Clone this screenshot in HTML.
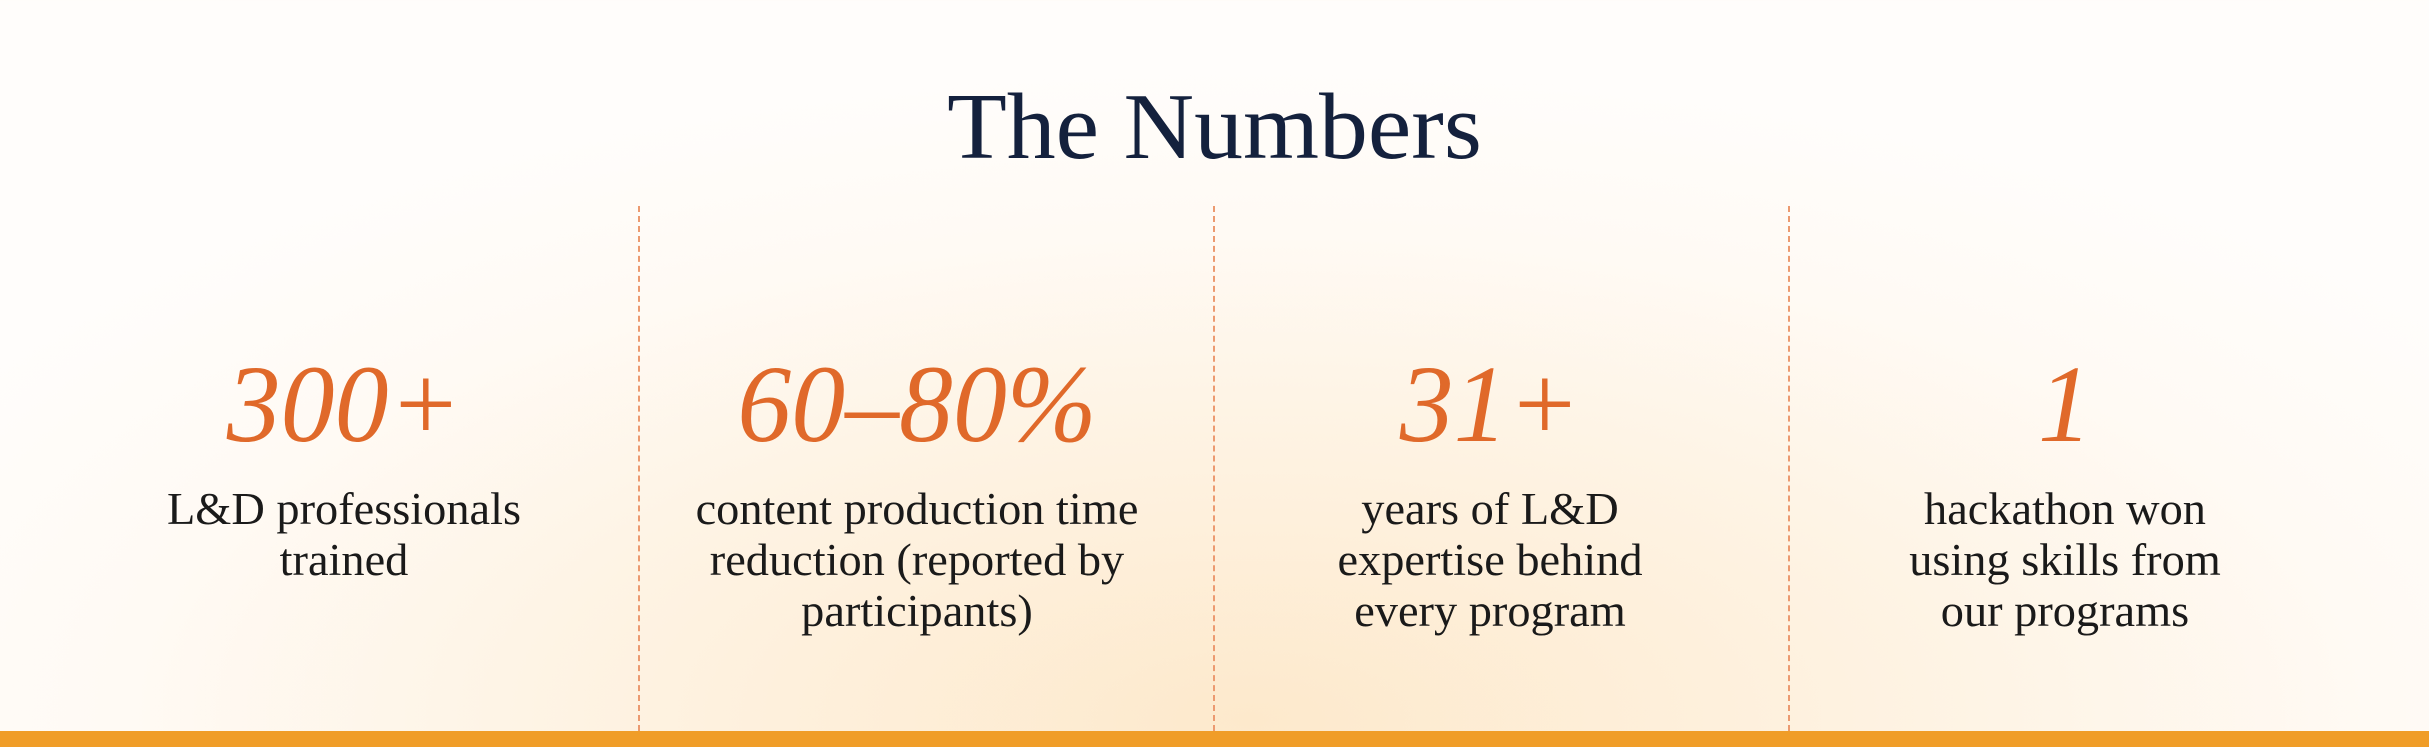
<!DOCTYPE html>
<html><head><meta charset="utf-8"><style>
html,body{margin:0;padding:0;}
body{width:2429px;height:747px;position:relative;overflow:hidden;font-family:"Liberation Serif",serif;
background:radial-gradient(ellipse 1500px 650px at 1250px 720px,#fde9cc 0%,#fef3e3 45%,#fffaf4 75%,#fffdfb 100%);}
.title{position:absolute;left:0;width:2429px;top:72px;text-align:center;font-size:94px;line-height:110px;color:#14213d;transform:scaleX(1.04);}
.div{position:absolute;top:206px;height:525px;width:0;border-left:2px dashed #ec9a70;}
.col{position:absolute;width:560px;text-align:center;}
.num{position:absolute;left:0;width:560px;top:344px;font-style:italic;font-size:110px;line-height:120px;color:#e0692a;transform:scaleX(0.98);}
.lab{position:absolute;left:-40px;width:640px;top:484px;font-size:45px;line-height:51px;color:#1a1a1a;transform:scaleX(1.03);}
.bar{position:absolute;left:0;top:731px;width:2429px;height:16px;background:#f09d28;}
</style></head><body>
<div class="title">The Numbers</div>
<div class="div" style="left:638px"></div>
<div class="div" style="left:1213px"></div>
<div class="div" style="left:1788px"></div>
<div class="col" style="left:64px">
<div class="num">300+</div>
<div class="lab">L&amp;D professionals<br>trained</div></div>
<div class="col" style="left:637px">
<div class="num">60–80%</div>
<div class="lab">content production time<br>reduction (reported by<br>participants)</div></div>
<div class="col" style="left:1210px">
<div class="num">31+</div>
<div class="lab">years of L&amp;D<br>expertise behind<br>every program</div></div>
<div class="col" style="left:1785px">
<div class="num">1</div>
<div class="lab">hackathon won<br>using skills from<br>our programs</div></div>
<div class="bar"></div>
</body></html>
